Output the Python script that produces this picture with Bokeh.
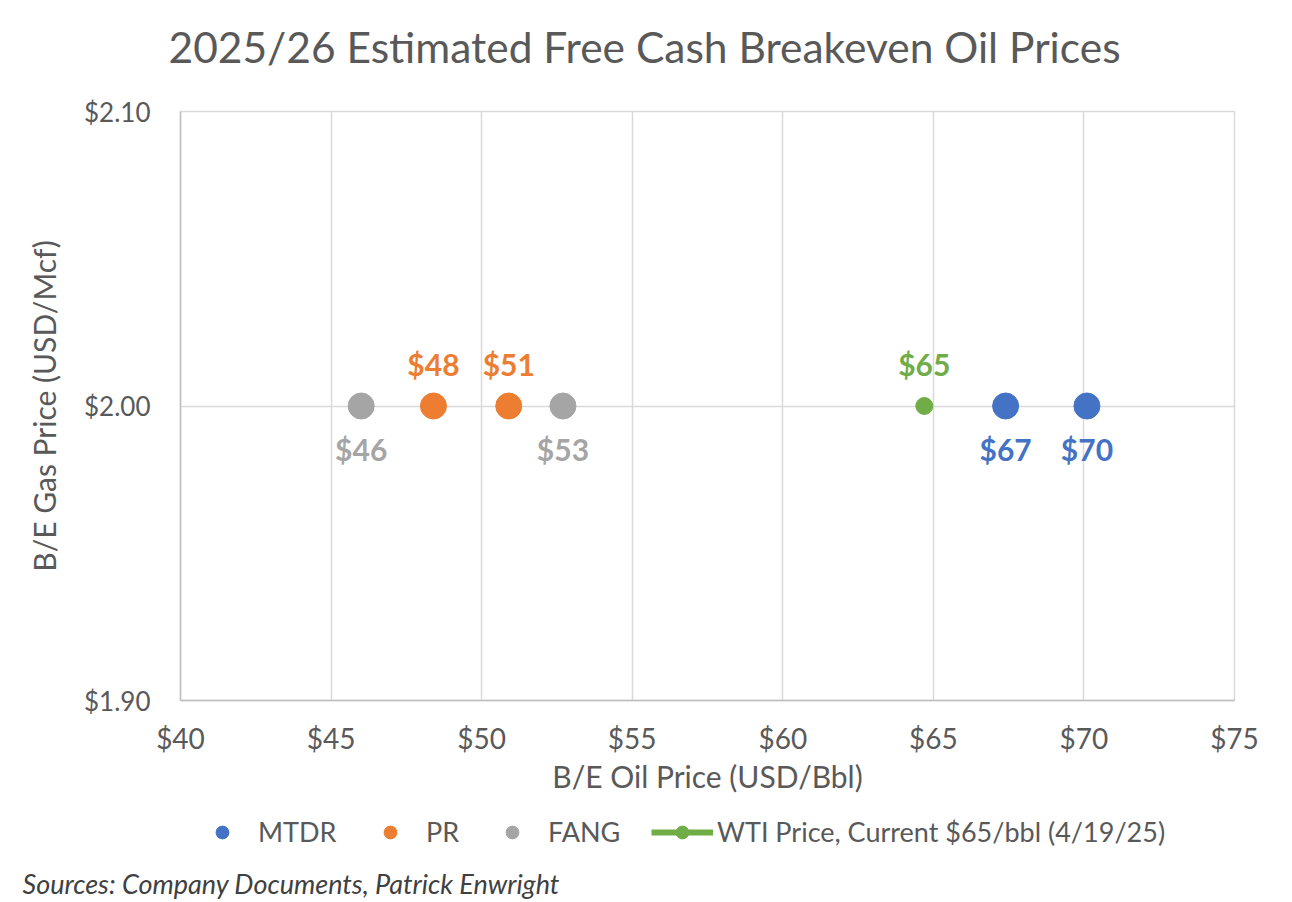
from bokeh.plotting import figure
from bokeh.layouts import column
from bokeh.models import (ColumnDataSource, NumeralTickFormatter, FixedTicker,
                          Legend, LegendItem, Title, Range1d)
from bokeh.core.properties import value
from bokeh.embed import file_html
from bokeh.resources import INLINE

# ---- data ----
mtdr_oil = [67.4, 70.1]
mtdr_gas = [2.00, 2.00]
pr_oil = [48.4, 50.9]
pr_gas = [2.00, 2.00]
fang_oil = [46.0, 52.7]
fang_gas = [2.00, 2.00]
wti_oil = [64.7]
wti_gas = [2.00]
x_ticks = [40, 45, 50, 55, 60, 65, 70, 75]
y_ticks = [1.90, 2.00, 2.10]
series_names = ["MTDR", "PR", "FANG", "WTI Price, Current $65/bbl (4/19/25)"]
title_text = "2025/26 Estimated Free Cash Breakeven Oil Prices"
x_title = "B/E Oil Price (USD/Bbl)"
y_title = "B/E Gas Price (USD/Mcf)"
source_note = "Sources: Company Documents, Patrick Enwright"

BLUE = "#4472C4"
ORANGE = "#ED7D31"
GREY = "#A5A5A5"
GREEN = "#70AD47"
TXT = "#595959"
FONT = "Lato"
W = 1292


def blank_fig(h):
    f = figure(width=W, height=h, output_backend="svg", toolbar_location=None,
               x_range=Range1d(0, 1), y_range=Range1d(0, 1),
               min_border=0, x_axis_type=None, y_axis_type=None)
    f.grid.visible = False
    f.outline_line_color = None
    f.background_fill_color = "white"
    f.border_fill_color = "white"
    return f


# ---- title strip ----
pt = blank_fig(93)
pt.add_layout(Title(text=title_text, align="left", offset=-12, text_font=FONT,
                    text_font_size="42.5px", text_color=TXT, text_font_style="normal",
                    standoff=36), "above")

# ---- main chart ----
p = figure(frame_width=1054, frame_height=589, output_backend="svg", toolbar_location=None,
           x_range=Range1d(40, 75), y_range=Range1d(1.90, 2.10),
           min_border_left=180, min_border_right=58, min_border_top=18,
           min_border_bottom=105)
p.background_fill_color = "white"
p.border_fill_color = "white"
p.outline_line_color = "#d9d9d9"
p.outline_line_width = 1.5

for ax in (p.xaxis[0], p.yaxis[0]):
    ax.major_tick_line_color = None
    ax.minor_tick_line_color = None
    ax.axis_line_color = "#bfbfbf"
    ax.axis_line_width = 1.5
    ax.major_label_text_font = FONT
    ax.major_label_text_color = TXT
    ax.axis_label_text_font = FONT
    ax.axis_label_text_color = TXT
    ax.axis_label_text_font_size = "30px"
    ax.axis_label_text_font_style = "normal"

p.xaxis.major_label_text_font_size = "28px"
p.yaxis.major_label_text_font_size = "26px"
p.xaxis.ticker = FixedTicker(ticks=x_ticks)
p.yaxis.ticker = FixedTicker(ticks=y_ticks)
p.xaxis.formatter = NumeralTickFormatter(format="$0")
p.yaxis.formatter = NumeralTickFormatter(format="$0.00")
p.xaxis.axis_label = x_title
p.yaxis.axis_label = y_title
p.xaxis.major_label_standoff = 14
p.xaxis.axis_label_standoff = 0
p.yaxis.major_label_standoff = 24
p.yaxis.axis_label_standoff = 19

p.xgrid.ticker = FixedTicker(ticks=x_ticks)
p.ygrid.ticker = FixedTicker(ticks=y_ticks)
for g in (p.xgrid[0], p.ygrid[0]):
    g.grid_line_color = "#d9d9d9"
    g.grid_line_width = 1.5

p.scatter(mtdr_oil, mtdr_gas, size=26, color=BLUE)
p.scatter(pr_oil, pr_gas, size=26, color=ORANGE)
p.scatter(fang_oil, fang_gas, size=26, color=GREY)
p.scatter(wti_oil, wti_gas, size=17, color=GREEN)


def add_labels(xs, ys, color, yoff):
    src = ColumnDataSource(dict(x=xs, y=ys, t=["$%d" % round(v) for v in xs]))
    p.text("x", "y", text="t", source=src, text_color=color,
           text_font=value(FONT), text_font_style="bold", text_font_size="30px",
           text_align="center", text_baseline="middle", y_offset=yoff)


add_labels(pr_oil, pr_gas, ORANGE, -42)
add_labels(wti_oil, wti_gas, GREEN, -42)
add_labels(fang_oil, fang_gas, GREY, 43)
add_labels(mtdr_oil, mtdr_gas, BLUE, 43)

# ---- legend + source strip ----
pl = blank_fig(95)
# legend-only swatch renderers, parked outside the strip's visible range
off = dict(x=[-5], y=[-5])
lg_mtdr = pl.scatter("x", "y", source=ColumnDataSource(off), color=BLUE)
lg_pr = pl.scatter("x", "y", source=ColumnDataSource(off), color=ORANGE)
lg_fang = pl.scatter("x", "y", source=ColumnDataSource(off), color=GREY)
lg_wti_l = pl.line("x", "y", source=ColumnDataSource(off), color=GREEN, line_width=6)
lg_wti_s = pl.scatter("x", "y", source=ColumnDataSource(off), color=GREEN)

entries = [
    (series_names[0], [lg_mtdr], 32, 20, 26),
    (series_names[1], [lg_pr], 32, 20, 194),
    (series_names[2], [lg_fang], 32, 20, 316),
    (series_names[3], [lg_wti_l, lg_wti_s], 62, 4, 471),
]
for name, rends, gw, standoff, x0 in entries:
    lg = Legend(items=[LegendItem(label=name, renderers=rends)],
                location=(x0, 16), orientation="horizontal")
    lg.glyph_width = gw
    lg.glyph_height = 32
    lg.label_standoff = standoff
    lg.label_text_font = FONT
    lg.label_text_font_size = "27px"
    lg.label_text_color = TXT
    lg.label_text_baseline = "middle"
    lg.border_line_color = None
    lg.background_fill_alpha = 0
    lg.padding = 0
    lg.margin = 0
    pl.add_layout(lg, "center")

pl.add_layout(Title(text=source_note, align="left", offset=-158, text_font=FONT,
                    text_font_size="27px", text_color="#404040",
                    text_font_style="italic", standoff=1), "below")

layout = column(pt, p, pl, spacing=0)
open("out.html", "w").write(file_html(layout, INLINE))
